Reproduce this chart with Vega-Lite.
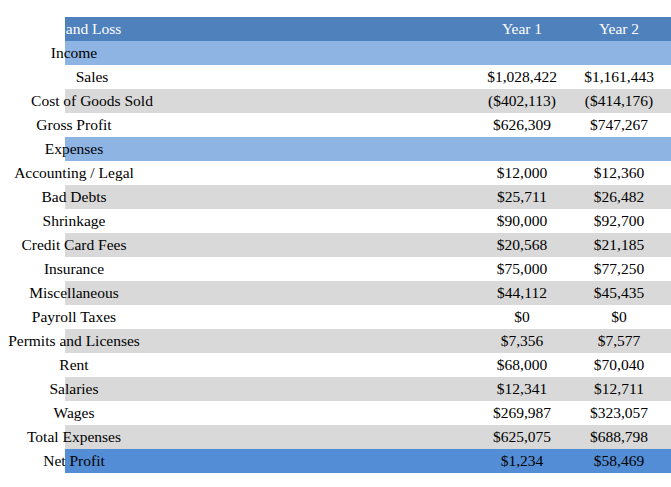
{
"$schema":"https://vega.github.io/schema/vega-lite/v6.json",
"width":659,"height":456,
"padding":{"left":8,"top":17,"right":4,"bottom":14},
"background":"white",
"config":{"view":{"stroke":null}},
"datasets":{
"rows":[
{"r":0,"kind":"header"},{"r":1,"kind":"section"},{"r":2,"kind":"white"},{"r":3,"kind":"gray"},{"r":4,"kind":"white"},{"r":5,"kind":"section"},
{"r":6,"kind":"white"},{"r":7,"kind":"gray"},{"r":8,"kind":"white"},{"r":9,"kind":"gray"},{"r":10,"kind":"white"},{"r":11,"kind":"gray"},{"r":12,"kind":"white"},{"r":13,"kind":"gray"},{"r":14,"kind":"white"},{"r":15,"kind":"gray"},{"r":16,"kind":"white"},{"r":17,"kind":"gray"},{"r":18,"kind":"net"}
],
"cells":[
{"r":0,"col":"label","t":"Profit and Loss","h":1},{"r":0,"col":"Year 1","t":"Year 1","h":1},{"r":0,"col":"Year 2","t":"Year 2","h":1},{"r":0,"col":"Year 3","t":"Year 3","h":1},
{"r":1,"col":"label","t":"Income","h":0},
{"r":2,"col":"indent","t":"Sales","h":0},{"r":2,"col":"Year 1","t":"$1,028,422","h":0},{"r":2,"col":"Year 2","t":"$1,161,443","h":0},{"r":2,"col":"Year 3","t":"$1,235,835","h":0},
{"r":3,"col":"indent","t":"Cost of Goods Sold","h":0},{"r":3,"col":"Year 1","t":"($402,113)","h":0},{"r":3,"col":"Year 2","t":"($414,176)","h":0},{"r":3,"col":"Year 3","t":"($426,602)","h":0},
{"r":4,"col":"label","t":"Gross Profit","h":0},{"r":4,"col":"Year 1","t":"$626,309","h":0},{"r":4,"col":"Year 2","t":"$747,267","h":0},{"r":4,"col":"Year 3","t":"$809,234","h":0},
{"r":5,"col":"label","t":"Expenses","h":0},
{"r":6,"col":"label","t":"Accounting / Legal","h":0},{"r":6,"col":"Year 1","t":"$12,000","h":0},{"r":6,"col":"Year 2","t":"$12,360","h":0},{"r":6,"col":"Year 3","t":"$12,731","h":0},
{"r":7,"col":"label","t":"Bad Debts","h":0},{"r":7,"col":"Year 1","t":"$25,711","h":0},{"r":7,"col":"Year 2","t":"$26,482","h":0},{"r":7,"col":"Year 3","t":"$27,276","h":0},
{"r":8,"col":"label","t":"Shrinkage","h":0},{"r":8,"col":"Year 1","t":"$90,000","h":0},{"r":8,"col":"Year 2","t":"$92,700","h":0},{"r":8,"col":"Year 3","t":"$95,481","h":0},
{"r":9,"col":"label","t":"Credit Card Fees","h":0},{"r":9,"col":"Year 1","t":"$20,568","h":0},{"r":9,"col":"Year 2","t":"$21,185","h":0},{"r":9,"col":"Year 3","t":"$21,821","h":0},
{"r":10,"col":"label","t":"Insurance","h":0},{"r":10,"col":"Year 1","t":"$75,000","h":0},{"r":10,"col":"Year 2","t":"$77,250","h":0},{"r":10,"col":"Year 3","t":"$79,568","h":0},
{"r":11,"col":"label","t":"Miscellaneous","h":0},{"r":11,"col":"Year 1","t":"$44,112","h":0},{"r":11,"col":"Year 2","t":"$45,435","h":0},{"r":11,"col":"Year 3","t":"$46,798","h":0},
{"r":12,"col":"label","t":"Payroll Taxes","h":0},{"r":12,"col":"Year 1","t":"$0","h":0},{"r":12,"col":"Year 2","t":"$0","h":0},{"r":12,"col":"Year 3","t":"$0","h":0},
{"r":13,"col":"label","t":"Permits and Licenses","h":0},{"r":13,"col":"Year 1","t":"$7,356","h":0},{"r":13,"col":"Year 2","t":"$7,577","h":0},{"r":13,"col":"Year 3","t":"$7,804","h":0},
{"r":14,"col":"label","t":"Rent","h":0},{"r":14,"col":"Year 1","t":"$68,000","h":0},{"r":14,"col":"Year 2","t":"$70,040","h":0},{"r":14,"col":"Year 3","t":"$72,141","h":0},
{"r":15,"col":"label","t":"Salaries","h":0},{"r":15,"col":"Year 1","t":"$12,341","h":0},{"r":15,"col":"Year 2","t":"$12,711","h":0},{"r":15,"col":"Year 3","t":"$13,093","h":0},
{"r":16,"col":"label","t":"Wages","h":0},{"r":16,"col":"Year 1","t":"$269,987","h":0},{"r":16,"col":"Year 2","t":"$323,057","h":0},{"r":16,"col":"Year 3","t":"$340,027","h":0},
{"r":17,"col":"label","t":"Total Expenses","h":0},{"r":17,"col":"Year 1","t":"$625,075","h":0},{"r":17,"col":"Year 2","t":"$688,798","h":0},{"r":17,"col":"Year 3","t":"$716,739","h":0},
{"r":18,"col":"label","t":"Net Profit","h":0},{"r":18,"col":"Year 1","t":"$1,234","h":0},{"r":18,"col":"Year 2","t":"$58,469","h":0},{"r":18,"col":"Year 3","t":"$92,494","h":0}
]},
"layer":[
{"data":{"name":"rows"},"mark":{"type":"bar"},
 "encoding":{
  "y":{"field":"r","type":"ordinal","axis":null,"scale":{"paddingInner":0,"paddingOuter":0}},
  "color":{"field":"kind","type":"nominal","legend":null,"scale":{"domain":["header","section","white","gray","net"],"range":["#4F81BD","#8DB4E2","#FFFFFF","#D9D9D9","#538DD5"]}}}},
{"data":{"name":"cells"},
 "transform":[{"calculate":"indexof(['label','indent','Year 1','Year 2','Year 3'], datum.col)","as":"c"}],
 "mark":{"type":"text","font":"Liberation Serif","fontSize":15.5,"baseline":"middle"},
 "encoding":{
  "y":{"field":"r","type":"ordinal","axis":null},
  "x":{"field":"c","type":"quantitative","axis":null,"scale":{"domain":[0,1,2,3,4],"range":[9,27,457,554,652],"nice":false,"zero":false}},
  "align":{"condition":{"test":"datum.c < 2","value":"left"},"value":"right"},
  "color":{"condition":{"test":"datum.h == 1","value":"#FFFFFF"},"value":"#000000"},
  "fontWeight":{"condition":{"test":"datum.h == 1","value":"bold"},"value":"normal"},
  "text":{"field":"t"}}}
]
}
